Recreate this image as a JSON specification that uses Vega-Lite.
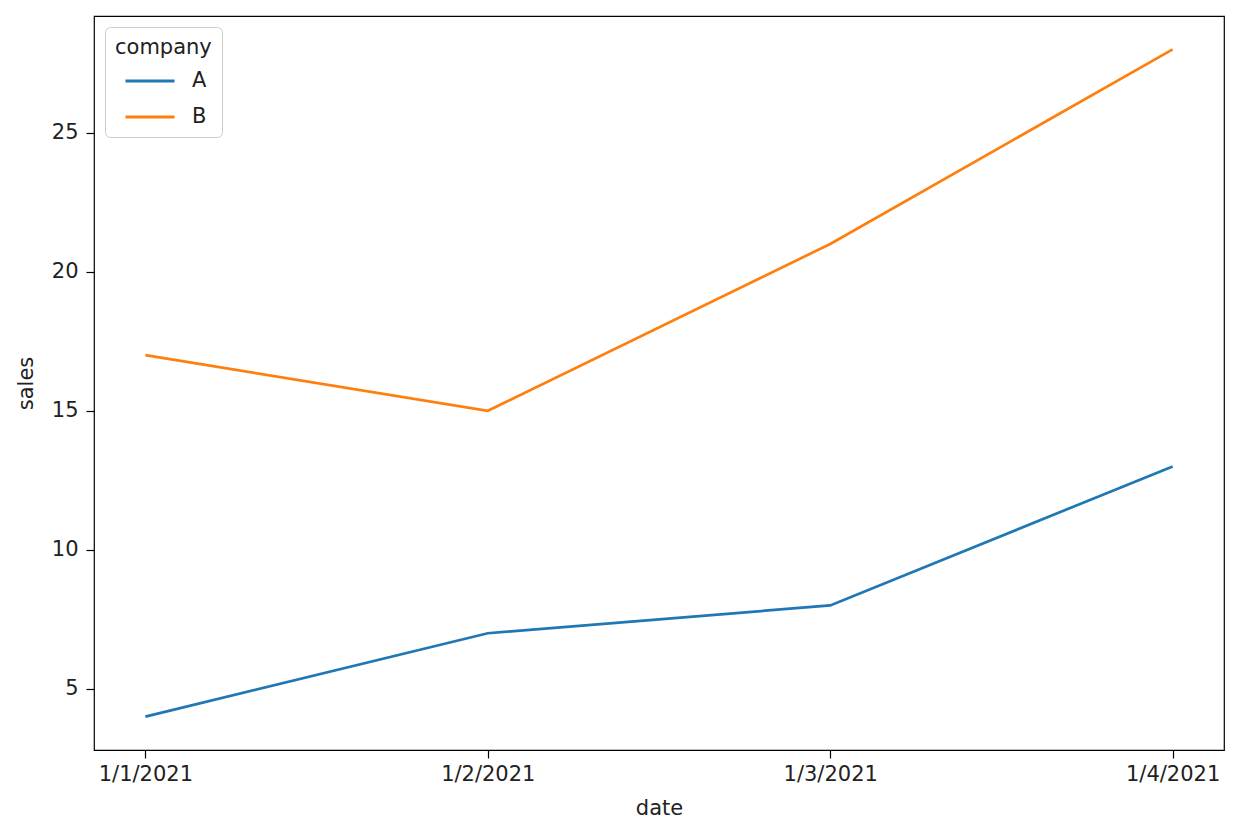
{
  "$schema": "https://vega.github.io/schema/vega-lite/v6.json",
  "width": 1130,
  "height": 734,
  "autosize": {"type": "none"},
  "padding": {"left": 94, "top": 16, "right": 12, "bottom": 90},
  "background": "white",
  "config": {
    "font": "DejaVu Sans",
    "view": {"stroke": "black", "strokeWidth": 1.2},
    "axis": {
      "grid": false,
      "domain": false,
      "tickColor": "black",
      "tickSize": 8,
      "tickWidth": 1.2,
      "labelFont": "DejaVu Sans",
      "labelFontSize": 21,
      "labelColor": "#222",
      "titleFont": "DejaVu Sans",
      "titleFontSize": 21,
      "titleFontWeight": "normal",
      "titleColor": "#222"
    }
  },
  "data": {
    "values": [
      {"date": "1/1/2021", "company": "A", "sales": 4},
      {"date": "1/2/2021", "company": "A", "sales": 7},
      {"date": "1/3/2021", "company": "A", "sales": 8},
      {"date": "1/4/2021", "company": "A", "sales": 13},
      {"date": "1/1/2021", "company": "B", "sales": 17},
      {"date": "1/2/2021", "company": "B", "sales": 15},
      {"date": "1/3/2021", "company": "B", "sales": 21},
      {"date": "1/4/2021", "company": "B", "sales": 28}
    ]
  },
  "mark": {"type": "line", "strokeWidth": 2.7},
  "encoding": {
    "x": {
      "field": "date",
      "type": "ordinal",
      "sort": ["1/1/2021", "1/2/2021", "1/3/2021", "1/4/2021"],
      "scale": {"type": "point", "padding": 0.15},
      "axis": {"labelAngle": 0, "labelPadding": 5, "titlePadding": 13, "title": "date"}
    },
    "y": {
      "field": "sales",
      "type": "quantitative",
      "scale": {"domain": [2.8, 29.2], "nice": false, "zero": false},
      "axis": {"values": [5, 10, 15, 20, 25], "labelPadding": 8, "titlePadding": 15, "title": "sales"}
    },
    "color": {
      "field": "company",
      "type": "nominal",
      "scale": {"domain": ["A", "B"], "range": ["#1f77b4", "#ff7f0e"]},
      "legend": {
        "orient": "top-left",
        "offset": 11,
        "title": "company",
        "titleFont": "DejaVu Sans",
        "titleFontSize": 21,
        "titleFontWeight": "normal",
        "titleColor": "#222",
        "titlePadding": -3,
        "labelFont": "DejaVu Sans",
        "labelFontSize": 21,
        "labelColor": "#222",
        "labelOffset": 16,
        "symbolType": "stroke",
        "symbolSize": 2401,
        "symbolStrokeWidth": 3,
        "symbolOffset": 9,
        "rowPadding": -5,
        "padding": 10,
        "fillColor": "white",
        "strokeColor": "#cccccc",
        "cornerRadius": 5
      }
    }
  }
}
